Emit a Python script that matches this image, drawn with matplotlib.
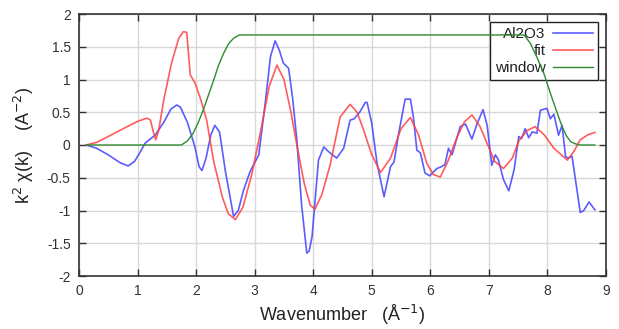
import numpy as np
import matplotlib
matplotlib.use("Agg")
import matplotlib.pyplot as plt

plt.rcParams["font.family"] = ["Liberation Sans", "DejaVu Sans"]

# Al2O3 data (k, k^2 chi)
data_k = [0.12, 0.3, 0.5, 0.7, 0.84, 0.95, 1.05, 1.13, 1.3, 1.45, 1.57, 1.67, 1.73,
          1.85, 1.98, 2.05, 2.10, 2.17, 2.25, 2.32, 2.40, 2.50, 2.64, 2.72, 2.81,
          2.92, 3.07, 3.18, 3.27, 3.35, 3.42, 3.49, 3.58, 3.65, 3.72, 3.80, 3.89,
          3.93, 3.98, 4.09, 4.18, 4.26, 4.40, 4.52, 4.63, 4.70, 4.80, 4.89, 4.92,
          5.00, 5.09, 5.21, 5.32, 5.38, 5.46, 5.57, 5.66, 5.71, 5.77, 5.83, 5.91,
          5.99, 6.11, 6.19, 6.25, 6.31, 6.37, 6.51, 6.60, 6.71, 6.80, 6.90, 6.97,
          7.05, 7.11, 7.16, 7.25, 7.34, 7.43, 7.51, 7.56, 7.62, 7.68, 7.74, 7.82,
          7.88, 7.99, 8.05, 8.11, 8.19, 8.25, 8.31, 8.36, 8.42, 8.56, 8.62, 8.71, 8.81]
data_v = [0.0, -0.05, -0.15, -0.27, -0.32, -0.25, -0.1, 0.03, 0.15, 0.35, 0.55, 0.61, 0.58,
          0.35, -0.03, -0.33, -0.39, -0.2, 0.15, 0.30, 0.2, -0.4, -1.09, -1.0, -0.69,
          -0.41, -0.15, 0.64, 1.35, 1.59, 1.45, 1.25, 1.17, 0.7, 0.08, -0.9, -1.65,
          -1.62, -1.40, -0.23, -0.03, -0.1, -0.2, -0.05, 0.38, 0.4, 0.51, 0.65, 0.65,
          0.33, -0.28, -0.79, -0.33, -0.26, 0.18, 0.70, 0.70, 0.43, -0.08, -0.12, -0.43,
          -0.47, -0.36, -0.33, -0.3, -0.05, -0.15, 0.28, 0.32, 0.09, 0.33, 0.54, 0.3,
          -0.31, -0.15, -0.22, -0.53, -0.70, -0.38, 0.13, 0.1, 0.25, 0.11, 0.2, 0.18,
          0.53, 0.56, 0.4, 0.47, 0.15, 0.3, -0.18, -0.2, -0.17, -1.03, -1.0, -0.87, -0.99]

# fit
fit_k = [0.12, 0.3, 0.5, 0.8, 1.0, 1.16, 1.22, 1.27, 1.31, 1.36, 1.45, 1.58, 1.70,
         1.78, 1.84, 1.90, 1.98, 2.07, 2.18, 2.30, 2.45, 2.55, 2.67, 2.80, 2.95,
         3.10, 3.25, 3.38, 3.50, 3.62, 3.72, 3.85, 3.95, 4.03, 4.15, 4.29, 4.46,
         4.63, 4.75, 4.86, 5.00, 5.15, 5.32, 5.50, 5.66, 5.80, 5.94, 6.05, 6.17,
         6.30, 6.46, 6.58, 6.71, 6.85, 6.98, 7.10, 7.25, 7.40, 7.51, 7.65, 7.79,
         7.95, 8.11, 8.34, 8.45, 8.56, 8.70, 8.81]
fit_v = [0.0, 0.04, 0.13, 0.27, 0.36, 0.41, 0.38, 0.2, 0.08, 0.22, 0.7, 1.25, 1.62,
         1.73, 1.72, 1.07, 0.95, 0.72, 0.38, -0.25, -0.8, -1.05, -1.14, -0.95, -0.45,
         0.2, 0.9, 1.22, 1.0, 0.5, 0.0, -0.6, -0.92, -0.98, -0.75, -0.3, 0.43,
         0.62, 0.5, 0.23, -0.15, -0.42, -0.2, 0.25, 0.42, 0.15, -0.28, -0.45, -0.49,
         -0.25, 0.13, 0.35, 0.46, 0.28, 0.0, -0.25, -0.36, -0.2, 0.06, 0.22, 0.28,
         0.15, -0.05, -0.23, -0.1, 0.08, 0.16, 0.19]

# window
win_k = [0.12, 1.75, 1.85, 1.95, 2.03, 2.12, 2.21, 2.30, 2.38, 2.47, 2.55, 2.64, 2.74,
         7.60, 7.71, 7.82, 7.94, 8.05, 8.17, 8.25, 8.33, 8.40, 8.47, 8.55, 8.81]
win_v = [0.0, 0.0, 0.06, 0.18, 0.33, 0.53, 0.76, 0.99, 1.21, 1.40, 1.54, 1.63, 1.68,
         1.68, 1.55, 1.34, 1.09, 0.79, 0.48, 0.28, 0.13, 0.05, 0.02, 0.0, 0.0]

fig, ax = plt.subplots(figsize=(6.19, 3.29), dpi=100)
fig.subplots_adjust(left=79 / 619, right=606 / 619, top=1 - 14 / 329, bottom=1 - 276 / 329)

ax.plot(data_k, data_v, color="#4040ff", lw=1.2, alpha=0.85, label="Al2O3", zorder=3)
ax.plot(fit_k, fit_v, color="#ff4040", lw=1.2, alpha=0.85, label="fit", zorder=3)
ax.plot(win_k, win_v, color="#2e8b2e", lw=1.0, label="window", zorder=3)

ax.set_xlim(0, 9)
ax.set_ylim(-2, 2)
ax.set_xticks(np.arange(0, 10, 1))
ax.set_yticks(np.arange(-2, 2.5, 0.5))
ax.set_yticklabels(["-2", "-1.5", "-1", "-0.5", "0", "0.5", "1", "1.5", "2"])
ax.grid(True, color="#d8d8d8", lw=1.0)
ax.set_axisbelow(True)
ax.tick_params(direction="in", top=True, right=True, length=5, width=1.0,
               labelsize=10, colors="#333333", pad=6)
for s in ax.spines.values():
    s.set_color("#333333")
    s.set_linewidth(1.2)

ax.set_xlabel("Wavenumber   (Å$^{-1}$)", fontsize=13, color="#222222", labelpad=3)
ax.set_ylabel("k$^2$ χ(k)    (A$^{-2}$)", fontsize=13, color="#222222", labelpad=8)

# legend sits behind the curves, like the original (lines cross the box)
leg = ax.legend(loc="upper right", markerfirst=False, fancybox=False, framealpha=1,
                facecolor="white", edgecolor="#222222", fontsize=11, handlelength=2.6,
                borderpad=0.35, labelspacing=0.2, handletextpad=0.5, borderaxespad=0.5)
leg.set_zorder(2)
leg.get_frame().set_linewidth(1.0)
for t in leg.get_texts():
    t.set_ha("right")
    t.set_color("#222222")

fig.savefig("out.png", dpi=100)
